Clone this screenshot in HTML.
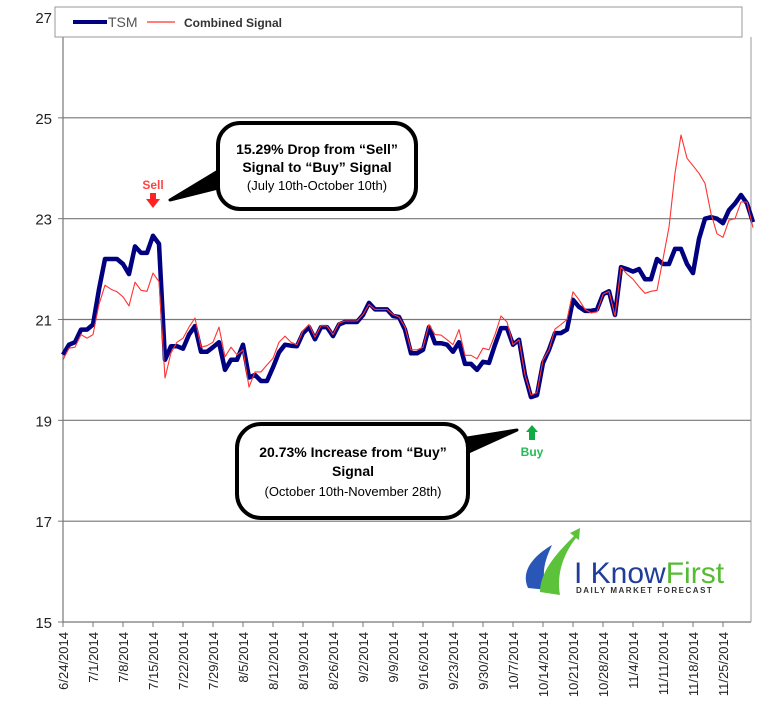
<!DOCTYPE html>
<html><head><meta charset="utf-8"><style>
html,body{margin:0;padding:0;background:#fff;}
svg{display:block;font-family:"Liberation Sans",sans-serif;}
</style></head><body>
<svg id="chart" width="781" height="714" viewBox="0 0 781 714">
<rect width="781" height="714" fill="#fff"/>
<g id="grid"></g>
<g id="axes"></g>
<g id="series"></g>
<g>
  <rect x="55" y="7" width="687" height="30" fill="#fff" stroke="#999" stroke-width="1"/>
  <line x1="73" y1="22" x2="107" y2="22" stroke="#000080" stroke-width="4"/>
  <text x="108" y="27" font-size="14" fill="#555">TSM</text>
  <line x1="147" y1="22" x2="175" y2="22" stroke="#f33" stroke-width="1.2"/>
  <text x="184" y="27" font-size="12" font-weight="bold" fill="#333">Combined Signal</text>
</g>
<g>
  <polygon points="228,165 170,200 230,185" fill="#000" stroke="#000" stroke-width="3" stroke-linejoin="round"/>
  <rect x="218" y="123" width="198" height="86" rx="22" fill="#fff" stroke="#000" stroke-width="4"/>
  <text x="317" y="154" font-size="14" font-weight="bold" text-anchor="middle">15.29% Drop from “Sell”</text>
  <text x="317" y="172" font-size="14" font-weight="bold" text-anchor="middle">Signal to “Buy” Signal</text>
  <text x="317" y="190" font-size="13" text-anchor="middle">(July 10th-October 10th)</text>
</g>
<g>
  <text x="153" y="189" font-size="12" font-weight="bold" fill="#f44" text-anchor="middle">Sell</text>
  <polygon points="150,193 156,193 156,199 160,199 153,208 146,199 150,199" fill="#f22"/>
</g>
<g>
  <polygon points="455,440 517,430 462,455" fill="#000" stroke="#000" stroke-width="3" stroke-linejoin="round"/>
  <rect x="237" y="424" width="231" height="94" rx="24" fill="#fff" stroke="#000" stroke-width="4"/>
  <text x="353" y="457" font-size="14" font-weight="bold" text-anchor="middle">20.73% Increase from “Buy”</text>
  <text x="353" y="476" font-size="14" font-weight="bold" text-anchor="middle">Signal</text>
  <text x="353" y="496" font-size="13" text-anchor="middle">(October 10th-November 28th)</text>
</g>
<g>
  <polygon points="532,425 538,432 535,432 535,440 529,440 529,432 526,432" fill="#1a4"/>
  <text x="532" y="456" font-size="12" font-weight="bold" fill="#2b5" text-anchor="middle">Buy</text>
</g>
<g>
  <path d="M528,588 C520,570 535,555 552,545 C545,560 540,575 548,590 Z" fill="#2a56b8"/>
  <path d="M540,592 C540,570 560,550 574,536 L570,533 L580,528 L579,540 L576,538 C565,552 556,572 560,595 Z" fill="#5cc23a"/>
  <text x="574" y="583" font-size="30" fill="#1f3d99">I Know<tspan fill="#55bb33">First</tspan></text>
  <text x="576" y="593" font-size="8" font-weight="bold" fill="#333" letter-spacing="1.5">DAILY MARKET FORECAST</text>
</g>
</svg>
<script>
const yTicks = [15,17,19,21,23,25,27];
const xLabels = ["6/24/2014","7/1/2014","7/8/2014","7/15/2014","7/22/2014","7/29/2014","8/5/2014","8/12/2014","8/19/2014","8/26/2014","9/2/2014","9/9/2014","9/16/2014","9/23/2014","9/30/2014","10/7/2014","10/14/2014","10/21/2014","10/28/2014","11/4/2014","11/11/2014","11/18/2014","11/25/2014"];
const tsm = [20.3,20.5,20.55,20.8,20.8,20.9,21.6,22.2,22.2,22.2,22.1,21.9,22.45,22.32,22.32,22.66,22.5,20.2,20.47,20.47,20.42,20.7,20.87,20.36,20.36,20.45,20.55,20.0,20.2,20.2,
20.5,19.85,19.9,19.78,19.78,20.05,20.35,20.5,20.48,20.47,20.73,20.85,20.61,20.85,20.85,20.67,20.9,20.95,20.95,20.95,21.09,21.33,21.2,21.2,21.2,21.07,21.05,20.8,20.33,
20.33,20.4,20.85,20.53,20.53,20.5,20.36,20.55,20.12,20.12,20.0,20.16,20.14,20.5,20.83,20.83,20.5,20.6,19.9,19.46,19.5,20.14,20.4,20.73,20.73,20.8,21.39,21.25,
21.17,21.17,21.2,21.5,21.56,21.09,22.04,22.0,21.95,22.0,21.8,21.8,22.2,22.1,22.1,22.4,22.4,22.1,21.92,22.6,23.0,23.03,23.0,22.91,23.17,23.3,23.47,23.3,22.93];
const signal = [20.2,20.43,20.45,20.7,20.63,20.7,21.3,21.68,21.6,21.55,21.45,21.27,21.74,21.58,21.56,21.92,21.75,19.84,20.34,20.55,20.63,20.85,21.03,20.45,20.48,20.55,20.85,20.26,20.45,20.3,
20.4,19.66,19.96,19.96,20.1,20.23,20.55,20.67,20.55,20.5,20.78,20.9,20.65,20.88,20.87,20.7,20.93,20.97,20.97,20.97,21.1,21.3,21.2,21.2,21.2,21.1,21.05,20.85,20.4,
20.4,20.45,20.9,20.7,20.69,20.6,20.5,20.8,20.29,20.29,20.22,20.43,20.4,20.7,21.07,20.95,20.5,20.6,19.9,19.5,19.55,20.2,20.4,20.81,20.9,21.0,21.55,21.39,
21.2,21.13,21.15,21.5,21.56,21.07,22.04,21.9,21.8,21.65,21.52,21.56,21.58,22.2,22.83,23.9,24.66,24.2,24.05,23.9,23.7,23.1,22.7,22.63,22.97,23.0,23.33,23.33,22.82];

const NS='http://www.w3.org/2000/svg';
const X0=63, X1=751, Y15=622, Y27=17;
const yScale = v => Y15 - (v-15)*(Y15-Y27)/12;
const xIdx = i => X0 + i*6;
const xWeek = k => X0 + k*30;
function mk(tag, attrs, parent){const e=document.createElementNS(NS,tag);for(const k in attrs)e.setAttribute(k,attrs[k]);parent.appendChild(e);return e;}
const grid=document.getElementById('grid'), axes=document.getElementById('axes'), series=document.getElementById('series');

yTicks.forEach(v=>{
  const y=yScale(v);
  if(v>15 && v<27){
    const g=mk('line',{x1:X0,y1:y,x2:X1,y2:y,stroke:'#777','stroke-width':1.2},grid);
    
    
  }
  const t=mk('text',{x:52,y:y+6,'font-size':15,'text-anchor':'end',fill:'#222'},axes);
  t.textContent=v;
  
  
  mk('line',{x1:X0-5,y1:y,x2:X0,y2:y,stroke:'#777'},axes);
});
const ya=mk('line',{x1:X0,y1:37,x2:X0,y2:Y15,stroke:'#777','stroke-width':1.2},axes);


const xa=mk('line',{x1:X0,y1:Y15,x2:X1,y2:Y15,stroke:'#777','stroke-width':1.2},axes);


const rb=mk('line',{x1:X1,y1:37,x2:X1,y2:Y15,stroke:'#999','stroke-width':1},axes);


xLabels.forEach((s,k)=>{
  const x=xWeek(k);
  mk('line',{x1:x,y1:Y15,x2:x,y2:Y15+5,stroke:'#777'},axes);
  const t=mk('text',{x:0,y:0,'font-size':13,'text-anchor':'end',fill:'#222',transform:`translate(${x+5},${Y15+10}) rotate(-90)`},axes);
  t.textContent=s;
  
  
});
const pts = arr => arr.map((v,i)=>xIdx(i).toFixed(1)+','+yScale(v).toFixed(1)).join(' ');
const l1=mk('polyline',{points:pts(tsm),fill:'none',stroke:'#000080','stroke-width':4.5,'stroke-linejoin':'round'},series);


const l2=mk('polyline',{points:pts(signal),fill:'none',stroke:'#ff3333','stroke-width':1.1,'stroke-linejoin':'round'},series);


</script>
</body></html>
